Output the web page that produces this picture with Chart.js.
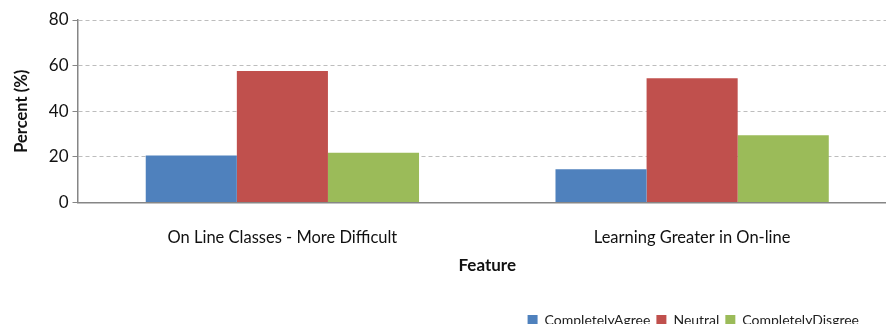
<!DOCTYPE html>
<html><head><meta charset="utf-8">
<script src="https://cdn.jsdelivr.net/npm/chart.js@4/dist/chart.umd.min.js"></script>
<style>
html,body{margin:0;padding:0;background:#fff;overflow:hidden;}
#wrap{position:relative;width:900px;height:334px;}
</style></head>
<body>
<div id="wrap"><canvas id="c"></canvas></div>
<script>
const categories = ["On Line Classes - More Difficult", "Learning Greater in On-line"];
const seriesNames = ["CompletelyAgree", "Neutral", "CompletelyDisgree"];
const completelyAgree = [20.6, 14.6];
const neutral = [57.6, 54.5];
const completelyDisagree = [21.8, 29.5];
const yTicks = [0, 20, 40, 60, 80];
const colors = ["#4F81BD", "#C0504D", "#9BBB59"];

const FONT = "Lato, 'Open Sans', sans-serif";
const legendShift = {
  id: 'legendShift',
  afterLayout(chart) {
    const lg = chart.legend;
    if (lg) { lg.left -= 32; lg.right -= 32; lg.top += 3; lg.bottom += 3; }
  }
};
new Chart(document.getElementById('c'), {
  type: 'bar',
  data: {
    labels: categories,
    datasets: [completelyAgree, neutral, completelyDisagree].map((d, i) => ({
      label: seriesNames[i], data: d, backgroundColor: colors[i],
      borderWidth: 0, categoryPercentage: 0.667, barPercentage: 1.0
    }))
  },
  plugins: [legendShift],
  options: {
    responsive: true, maintainAspectRatio: false, animation: false,
    layout: { padding: { top: 20, left: 8, right: 3, bottom: 0 } },
    plugins: {
      legend: {
        position: 'bottom', align: 'end',
        labels: { boxWidth: 10, boxHeight: 10, padding: 6, color: '#222', font: { family: FONT, size: 14 } }
      },
      tooltip: { enabled: false }
    },
    scales: {
      x: {
        grid: { display: false, drawTicks: false },
        border: { color: '#868686', width: 1.5 },
        ticks: { color: '#111', padding: 27, font: { family: FONT, size: 16.5, lineHeight: 1 } },
        title: { display: true, text: 'Feature', color: '#111', padding: { top: -16, bottom: 30 }, font: { family: FONT, size: 17, weight: 'bold', lineHeight: 1 } }
      },
      y: {
        min: 0, max: 80,
        afterBuildTicks: s => { s.ticks = yTicks.map(v => ({ value: v })); },
        grid: { color: '#BDBDBD', drawTicks: true, tickLength: 5, tickColor: '#868686' },
        border: { color: '#868686', width: 1.5, dash: [4, 3] },
        ticks: { color: '#111', padding: 4, font: { family: FONT, size: 17 } },
        title: { display: true, text: 'Percent (%)', color: '#111', padding: { bottom: 13 }, font: { family: FONT, size: 16.5, weight: 'bold' } }
      }
    }
  }
});
</script>
</body></html>
